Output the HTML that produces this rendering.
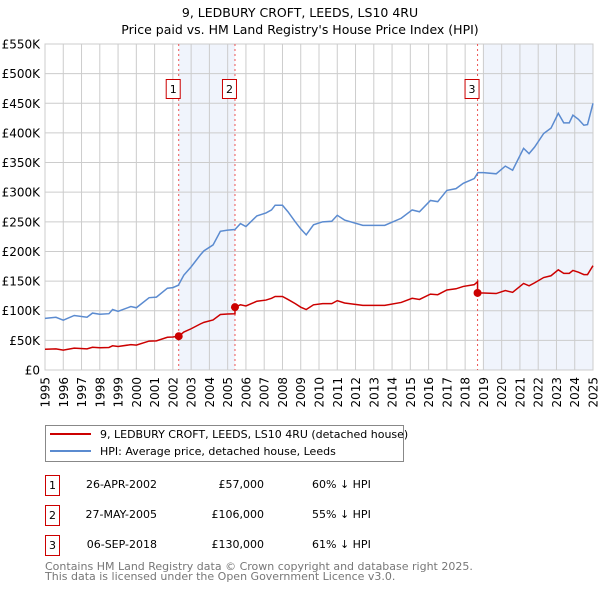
<!DOCTYPE html>
<html><head><meta charset="utf-8"><style>
body{margin:0;background:#fff;font-family:"Liberation Sans","DejaVu Sans",sans-serif;}
svg text{font-family:"DejaVu Sans","Liberation Sans",sans-serif;}
</style></head><body>
<svg id="chart" width="600" height="590" viewBox="0 0 600 590" xmlns="http://www.w3.org/2000/svg">
<text x="300" y="17" text-anchor="middle" font-size="12.5" fill="#000">9, LEDBURY CROFT, LEEDS, LS10 4RU</text>
<text x="300" y="34" text-anchor="middle" font-size="12.5" fill="#000">Price paid vs. HM Land Registry's House Price Index (HPI)</text>
<g id="plot"></g>
<g>
<rect x="45.5" y="425.5" width="358" height="36" fill="#fff" stroke="#888"/>
<line x1="50" y1="434" x2="91" y2="434" stroke="#cc0000" stroke-width="2"/>
<text x="100" y="438" font-size="11">9, LEDBURY CROFT, LEEDS, LS10 4RU (detached house)</text>
<line x1="50" y1="451" x2="91" y2="451" stroke="#5b8bd0" stroke-width="2"/>
<text x="100" y="455" font-size="11">HPI: Average price, detached house, Leeds</text>
</g>
<g font-size="11">
<rect x="45.5" y="475.5" width="14" height="20" fill="#fff" stroke="#cc0000"/><text x="52.5" y="489" text-anchor="middle">1</text>
<text x="157" y="488" text-anchor="end">26-APR-2002</text>
<text x="264" y="488" text-anchor="end">£57,000</text>
<text x="312" y="488">60% ↓ HPI</text>
<rect x="45.5" y="505.5" width="14" height="20" fill="#fff" stroke="#cc0000"/><text x="52.5" y="519" text-anchor="middle">2</text>
<text x="157" y="518" text-anchor="end">27-MAY-2005</text>
<text x="264" y="518" text-anchor="end">£106,000</text>
<text x="312" y="518">55% ↓ HPI</text>
<rect x="45.5" y="535.5" width="14" height="20" fill="#fff" stroke="#cc0000"/><text x="52.5" y="549" text-anchor="middle">3</text>
<text x="157" y="548" text-anchor="end">06-SEP-2018</text>
<text x="264" y="548" text-anchor="end">£130,000</text>
<text x="312" y="548">61% ↓ HPI</text>
</g>
<text x="45" y="570" font-size="11" fill="#777">Contains HM Land Registry data © Crown copyright and database right 2025.</text>
<text x="45" y="580" font-size="11" fill="#777">This data is licensed under the Open Government Licence v3.0.</text>
</svg>
<script>
const hpiDates=[1995.0,1995.6,1996.0,1996.6,1997.3,1997.6,1998.0,1998.5,1998.7,1999.0,1999.7,2000.0,2000.7,2001.1,2001.7,2002.0,2002.3,2002.6,2003.0,2003.5,2003.7,2004.2,2004.6,2005.0,2005.4,2005.7,2006.0,2006.6,2007.1,2007.4,2007.6,2008.0,2008.3,2008.7,2009.0,2009.3,2009.7,2010.2,2010.7,2011.0,2011.4,2012.4,2013.6,2014.5,2015.1,2015.5,2016.1,2016.5,2017.0,2017.5,2017.9,2018.5,2018.7,2019.0,2019.7,2020.2,2020.6,2021.2,2021.5,2021.8,2022.3,2022.7,2023.1,2023.4,2023.7,2023.9,2024.2,2024.5,2024.7,2024.9,2025.0];
const hpiValues=[87,89,84,92,89,96,94,95,102,99,107,105,122,123,138,139,143,160,174,194,201,211,234,236,237,247,242,260,265,270,278,278,267,250,238,228,245,250,251,261,253,244,244,256,270,267,286,284,303,306,315,323,333,333,331,344,337,374,365,376,399,408,433,417,417,430,423,413,414,438,450];
const redDates=[1995.0,1995.6,1996.0,1996.6,1997.3,1997.6,1998.0,1998.5,1998.7,1999.0,1999.7,2000.0,2000.7,2001.1,2001.7,2002.0,2002.32,2002.6,2003.0,2003.5,2003.7,2004.2,2004.6,2005.0,2005.4,2005.4,2005.7,2006.0,2006.6,2007.1,2007.4,2007.6,2008.0,2008.3,2008.7,2009.0,2009.3,2009.7,2010.2,2010.7,2011.0,2011.4,2012.4,2013.6,2014.5,2015.1,2015.5,2016.1,2016.5,2017.0,2017.5,2017.9,2018.5,2018.68,2018.68,2019.0,2019.7,2020.2,2020.6,2021.2,2021.5,2021.8,2022.3,2022.7,2023.1,2023.4,2023.7,2023.9,2024.2,2024.5,2024.7,2024.9,2025.0];
const redValues=[35,35.6,33.6,36.8,35.6,38.4,37.6,38,40.8,39.6,42.8,42,48.8,49.2,55.2,55.6,57,64,69.6,77.6,80.4,84.4,93.6,94.4,94.8,106,110,108,116,118,121,124,124,119,112,106,102,110,112,112,117,113,109,109,114,121,119,128,127,135,137,141,144,149,130,130,129,134,131,146,142,147,156,159,169,163,163,168,165,161,161,171,176];
const saleDates=[2002.32,2005.40,2018.68];
const salePrices=[57,106,130];
const saleLabels=["1","2","3"];
const yTicks=[0,50,100,150,200,250,300,350,400,450,500,550];
const yTickLabels=["£0","£50K","£100K","£150K","£200K","£250K","£300K","£350K","£400K","£450K","£500K","£550K"];
const xTicks=[1995,1996,1997,1998,1999,2000,2001,2002,2003,2004,2005,2006,2007,2008,2009,2010,2011,2012,2013,2014,2015,2016,2017,2018,2019,2020,2021,2022,2023,2024,2025];
const shadeRanges=[[2002.32,2005.40],[2019.0,2025.0]];

const NS="http://www.w3.org/2000/svg";
const L=45,R=593,T=44,B=370;
const xs=y=>L+(y-1995)/30*(R-L);
const ys=v=>B-v/550*(B-T);
const plot=document.getElementById('plot');
function mk(tag,attrs,parent){const e=document.createElementNS(NS,tag);for(const k in attrs)e.setAttribute(k,attrs[k]);(parent||plot).appendChild(e);return e;}
shadeRanges.forEach(r=>{
  const e=mk('rect',{x:xs(r[0]),y:T,width:xs(r[1])-xs(r[0]),height:B-T,fill:'#f0f4fc'});
  
  
});
yTicks.forEach((v,i)=>{
  const g=mk('line',{x1:L,x2:R,y1:ys(v),y2:ys(v),stroke:'#cccccc','stroke-width':1});
  
  
  const t=mk('text',{x:40,y:ys(v)+4.5,'text-anchor':'end','font-size':12});
  t.textContent=yTickLabels[i];
  
  
});
xTicks.forEach(y=>{
  const g=mk('line',{x1:xs(y),x2:xs(y),y1:T,y2:B,stroke:'#cccccc','stroke-width':1});
  
  
  const t=mk('text',{transform:`translate(${xs(y)+4.5},${377}) rotate(-90)`,'text-anchor':'end','font-size':12});
  t.textContent=String(y);
  
  
});
const frame=mk('rect',{x:L,y:T,width:R-L,height:B-T,fill:'none',stroke:'#cccccc'});


saleDates.forEach((d,i)=>{
  const l=mk('line',{x1:xs(d),x2:xs(d),y1:T,y2:B,stroke:'#ee5555','stroke-dasharray':'2,3','stroke-width':1});
  
  
  const bx=mk('rect',{x:xs(d)-12.5,y:79.5,width:14,height:19,fill:'#fff',stroke:'#cc0000'});
  
  
  const t=mk('text',{x:xs(d)-5.5,y:93,'text-anchor':'middle','font-size':11});
  t.textContent=saleLabels[i];
  
  
});
const hp=mk('polyline',{points:hpiDates.map((d,i)=>xs(d)+','+ys(hpiValues[i])).join(' '),fill:'none',stroke:'#5b8bd0','stroke-width':1.5});


const rp=mk('polyline',{points:redDates.map((d,i)=>xs(d)+','+ys(redValues[i])).join(' '),fill:'none',stroke:'#cc0000','stroke-width':1.5});


saleDates.forEach((d,i)=>{
  const c=mk('circle',{cx:xs(d),cy:ys(salePrices[i]),r:4,fill:'#cc0000'});
  
  
});
</script>
</body></html>
